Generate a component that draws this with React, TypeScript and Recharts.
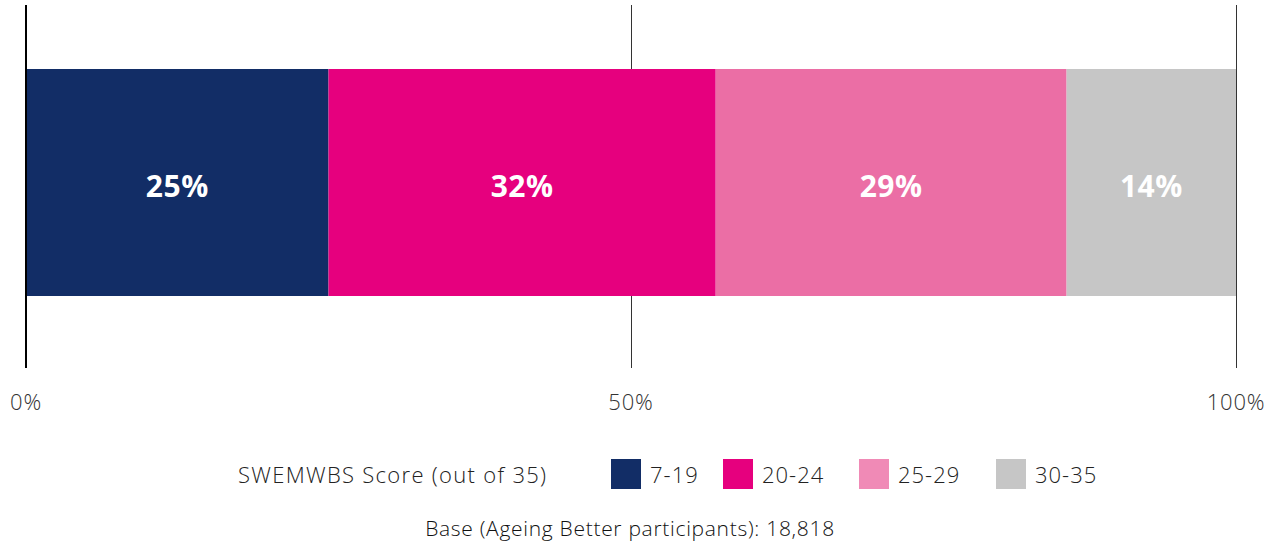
import React from 'react';
import { BarChart, Bar, XAxis, YAxis, CartesianGrid, Legend, LabelList, ReferenceLine } from 'recharts';

const categories = ['Ageing Better participants'];
const bandNames = ['7-19', '20-24', '25-29', '30-35'];
const bandValues = [25, 32, 29, 14];
const barColors = ['#122D66', '#E6007E', '#EB6EA5', '#C6C6C6'];
const legendColors = ['#122D66', '#E6007E', '#F08AB6', '#C6C6C6'];
const xTicks = [0, 50, 100];
const legendTitle = 'SWEMWBS Score (out of 35)';
const baseNote = 'Base (Ageing Better participants): 18,818';

const FONT = "'Open Sans', sans-serif";
// widths of each legend entry (square + text + gap)
const itemWidths = [112, 136, 137, 110];

const data = categories.map((name) => {
    const row: Record<string, string | number> = { name };
    bandNames.forEach((b, i) => {
        row[b] = bandValues[i];
    });
    return row;
});

const LegendBlock = () => (
    <div style={{ width: 1278, height: 126, marginLeft: -26, fontFamily: FONT, color: '#222', fontWeight: 300 }}>
        <div style={{ display: 'flex', alignItems: 'center', height: 30, marginTop: 41, paddingLeft: 238 }}>
            <span style={{ fontSize: 22, letterSpacing: 1.3, width: 373, whiteSpace: 'nowrap' }}>{legendTitle}</span>
            {bandNames.map((b, i) => (
                <span key={b} style={{ display: 'flex', alignItems: 'center', width: itemWidths[i] }}>
                    <span style={{ width: 30, height: 30, background: legendColors[i], display: 'inline-block', marginRight: 9 }} />
                    <span style={{ fontSize: 22, letterSpacing: 1 }}>{b}</span>
                </span>
            ))}
        </div>
        <div style={{ textAlign: 'center', fontSize: 21, lineHeight: '28px', marginTop: 25, marginLeft: -18, letterSpacing: 0.7, color: '#111' }}>
            {baseNote}
        </div>
    </div>
);

export default function App() {
    return (
        <div style={{ position: 'absolute', left: 0, top: 0, background: '#fff' }}>
            <BarChart
                width={1278}
                height={544}
                data={data}
                layout="vertical"
                margin={{ top: 5, right: 42, left: 26, bottom: 0 }}
            >
                <CartesianGrid horizontal={false} vertical stroke="#333" strokeWidth={1} shapeRendering="crispEdges" />
                <XAxis
                    type="number"
                    domain={[0, 100]}
                    ticks={xTicks}
                    tickFormatter={(v) => `${v}%`}
                    axisLine={false}
                    tickLine={false}
                    tickSize={0}
                    tickMargin={26}
                    height={50}
                    interval={0}
                    tick={{ fill: '#333', fontSize: 22, fontFamily: FONT, fontWeight: 300, letterSpacing: 0.8 }}
                />
                <YAxis
                    type="category"
                    dataKey="name"
                    width={0}
                    tick={false}
                    tickLine={false}
                    axisLine={false}
                    padding={{ top: 0, bottom: 8 }}
                />
                <Legend verticalAlign="bottom" height={126} content={() => <LegendBlock />} />
                {bandNames.map((b, i) => (
                    <Bar key={b} dataKey={b} stackId="a" fill={barColors[i]} barSize={227} isAnimationActive={false}>
                        <LabelList
                            dataKey={b}
                            position="center"
                            formatter={(v: any) => `${v}%`}
                            fill="#fff"
                            dy={4}
                            style={{ fontSize: 30, fontWeight: 700, fontFamily: FONT, letterSpacing: 0.5 }}
                        />
                    </Bar>
                ))}
                <ReferenceLine x={0} stroke="#000" strokeWidth={2} />
            </BarChart>
        </div>
    );
}
